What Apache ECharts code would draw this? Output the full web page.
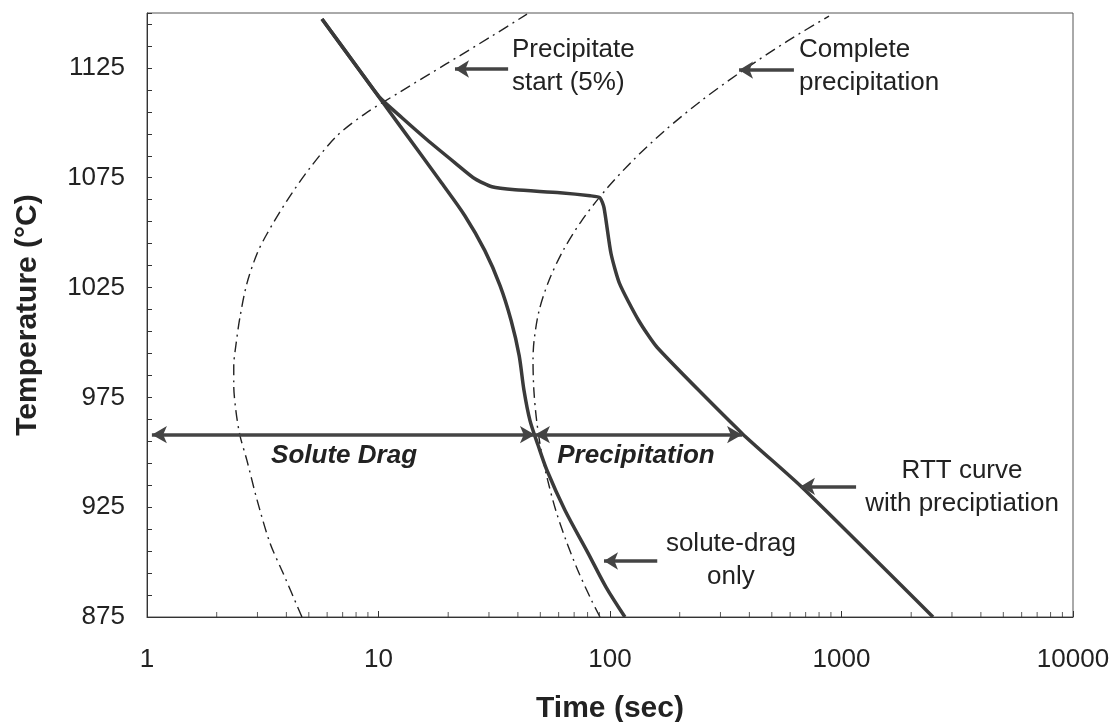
<!DOCTYPE html>
<html>
<head>
<meta charset="utf-8">
<script src="https://cdn.jsdelivr.net/npm/echarts@6/dist/echarts.min.js"></script>
<style>
html,body{margin:0;padding:0;background:#ffffff;}
#chart{width:1119px;height:722px;}
</style>
</head>
<body>
<div id="chart"></div>
<script>
// ---------------- data ----------------
const xTickLabels = [1, 10, 100, 1000, 10000];
const xMinorTicks = [2,3,4,5,6,7,8,9, 20,30,40,50,60,70,80,90, 200,300,400,500,600,700,800,900, 2000,3000,4000,5000,6000,7000,8000,9000];
const yTickLabels = [875, 925, 975, 1025, 1075, 1125];

// Precipitate start (5%) - dash-dot C-curve (time s, temperature C)
const precipStartTime = [4.67, 3.87, 3.40, 2.99, 2.70, 2.52, 2.42, 2.37, 2.37, 2.42, 2.52, 2.70, 2.99, 3.30, 4.02, 5.06, 6.62, 8.74, 12.4, 19.6, 30.9, 43.8];
const precipStartTemp = [875, 895, 908.6, 928.2, 946.4, 957.7, 969.1, 980.5, 989.5, 998.6, 1011.4, 1026.8, 1040.5, 1049.5, 1064.5, 1079.5, 1094.1, 1104.1, 1114.1, 1126.8, 1139.5, 1149.5];

// Complete precipitation - dash-dot C-curve
const precipEndTime = [90.5, 83.1, 72.5, 64.5, 58.3, 53.8, 50.4, 48.2, 46.9, 46.5, 47.0, 49.4, 54.5, 62.7, 75.5, 95.1, 125.1, 172.2, 247.5, 372.5, 585.8, 883];
const precipEndTemp = [875, 882.7, 896.4, 910, 923.6, 937.3, 950.9, 964.5, 978.2, 991.8, 1000.9, 1014.5, 1028.2, 1041.8, 1055.5, 1069.1, 1082.7, 1096.4, 1110, 1123.6, 1137.3, 1148.6];

// solute-drag only - solid
const soluteDragTime = [5.7, 8.32, 12.38, 18.44, 23.6, 28.8, 33.5, 37.4, 40.5, 42.5, 45.1, 48.9, 53.4, 63.9, 80.4, 96.1, 116];
const soluteDragTemp = [1147.3, 1123.6, 1098.6, 1073.6, 1057.7, 1041.8, 1025.9, 1010, 994.1, 978.2, 964.5, 953.2, 941.8, 923.6, 904.1, 888.6, 875];

// RTT curve with precipitation - solid
const rttTime = [5.7, 8.32, 10.15, 12.63, 16.2, 21.4, 26.1, 30.9, 38.9, 60.8, 82.0, 90.5, 94.2, 101, 110, 133, 160, 372, 668, 2485];
const rttTemp = [1147.3, 1123.6, 1111.4, 1102.3, 1092.3, 1081.8, 1074.5, 1070.9, 1069.5, 1068.2, 1066.8, 1065.9, 1061.4, 1040.5, 1026.8, 1010, 997.7, 958.6, 934.5, 875];

// regime arrows at constant temperature
const regimeTemp = 958;
const regimeBounds = [1.05, 47.4, 372];
const regimeNames = ['Solute Drag', 'Precipitation'];

// callouts: text anchors [time, temp]; arrows [tipTime, tailTime, temp]
const calloutTexts = ['Precipitate\nstart (5%)', 'Complete\nprecipitation', 'RTT curve\nwith preciptiation', 'solute-drag\nonly'];
const calloutAnchors = [[37.7, 1125.7], [655, 1125.7], [3316, 934], [333, 901]];
const calloutArrows = [[21.4, 36.3, 1124.5], [361, 623, 1124], [668, 1156, 934.5], [94.2, 160, 900.5]];
const regimeLabelAnchors = [[7.1, 948.6], [129.5, 948.6]];

// ---------------- chart ----------------
const FONT = '"Liberation Sans", Arial, Helvetica, sans-serif';
const TXT = '#222222';
const zip = (a, b) => a.map((v, i) => [v, b[i]]);

const chart = echarts.init(document.getElementById('chart'), null, {renderer: 'canvas'});

const arrowLines = calloutArrows.map(a => [
  {coord: [a[0], a[2]], symbol: 'arrow', symbolSize: [13, 14]},
  {coord: [a[1], a[2]], symbol: 'none'}
]);
const regimeLines = [
  [{coord: [regimeBounds[0], regimeTemp]}, {coord: [regimeBounds[1], regimeTemp]}],
  [{coord: [regimeBounds[1], regimeTemp]}, {coord: [regimeBounds[2], regimeTemp]}]
];

const option = {
  animation: false,
  backgroundColor: '#ffffff',
  grid: {left: 147, right: 46, top: 13, bottom: 105, show: true, borderColor: '#555', borderWidth: 1,
    containLabel: false, outerBoundsMode: 'none'},
  xAxis: {
    type: 'log', logBase: 10, min: xTickLabels[0], max: xTickLabels[xTickLabels.length - 1],
    axisLine: {show: true, lineStyle: {color: '#333', width: 1}},
    axisTick: {show: true, inside: true, length: 6, lineStyle: {color: '#333'}},
    axisLabel: {fontSize: 26, color: TXT, fontFamily: FONT, margin: 30, formatter: v => String(Math.round(v))},
    splitLine: {show: false},
    name: 'Time (sec)', nameLocation: 'middle', nameGap: 77,
    nameTextStyle: {fontSize: 30, fontWeight: 'bold', color: TXT, fontFamily: FONT}
  },
  yAxis: {
    type: 'value', min: 875, max: 1150, interval: 10,
    axisLine: {show: true, lineStyle: {color: '#333', width: 1}},
    axisTick: {show: true, inside: true, length: 5, lineStyle: {color: '#333'}},
    axisLabel: {fontSize: 26, color: TXT, fontFamily: FONT, margin: 22,
      formatter: v => (yTickLabels.indexOf(Math.round(v)) >= 0 ? String(Math.round(v)) : '')},
    splitLine: {show: false},
    name: 'Temperature (°C)', nameLocation: 'middle', nameGap: 104, nameRotate: 90,
    nameTextStyle: {fontSize: 30, fontWeight: 'bold', color: TXT, fontFamily: FONT}
  },
  series: [
    {
      name: 'Precipitate start (5%)', type: 'line', data: zip(precipStartTime, precipStartTemp),
      showSymbol: false, smooth: 0.3, silent: true,
      lineStyle: {color: '#222', width: 1.4, type: [11, 5, 2, 5]}
    },
    {
      name: 'Complete precipitation', type: 'line', data: zip(precipEndTime, precipEndTemp),
      showSymbol: false, smooth: 0.3, silent: true,
      lineStyle: {color: '#222', width: 1.4, type: [11, 5, 2, 5]}
    },
    {
      name: 'solute-drag only', type: 'line', data: zip(soluteDragTime, soluteDragTemp),
      showSymbol: false, smooth: 0.3, silent: true,
      lineStyle: {color: '#3a3a3a', width: 3.5}
    },
    {
      name: 'RTT curve with precipitation', type: 'line', data: zip(rttTime, rttTemp),
      showSymbol: false, smooth: 0.2, silent: true,
      lineStyle: {color: '#3a3a3a', width: 3.5},
      markLine: {
        silent: true, animation: false,
        label: {show: false},
        lineStyle: {color: '#444', width: 3.5, type: 'solid'},
        data: arrowLines
      }
    },
    {
      name: 'regimes', type: 'line', data: [], silent: true,
      markLine: {
        silent: true, animation: false,
        symbol: ['arrow', 'arrow'], symbolSize: [13, 15],
        label: {show: false},
        lineStyle: {color: '#444', width: 3.5, type: 'solid'},
        data: regimeLines
      }
    },
    {
      name: 'minor ticks', type: 'scatter', data: xMinorTicks.map(v => [v, 875]),
      symbol: 'rect', symbolSize: [1, 5], symbolOffset: [0, -2.5], clip: false, silent: true,
      itemStyle: {color: '#333'}, z: 5
    }
  ]
};
chart.setOption(option);

// text annotations anchored in data coordinates
const graphics = [];
calloutTexts.forEach((t, i) => {
  const p = chart.convertToPixel({gridIndex: 0}, calloutAnchors[i]);
  const centered = i >= 2;
  graphics.push({
    type: 'text', x: p[0], y: p[1], silent: true,
    style: {text: t, font: '26px ' + FONT, fill: TXT, lineHeight: 33,
      textAlign: centered ? 'center' : 'left', textVerticalAlign: 'middle'}
  });
});
regimeNames.forEach((t, i) => {
  const p = chart.convertToPixel({gridIndex: 0}, regimeLabelAnchors[i]);
  graphics.push({
    type: 'text', x: p[0], y: p[1], silent: true,
    style: {text: t, font: 'italic bold 26px ' + FONT, fill: TXT,
      textAlign: 'center', textVerticalAlign: 'middle'}
  });
});
chart.setOption({graphic: graphics});
</script>
</body>
</html>
